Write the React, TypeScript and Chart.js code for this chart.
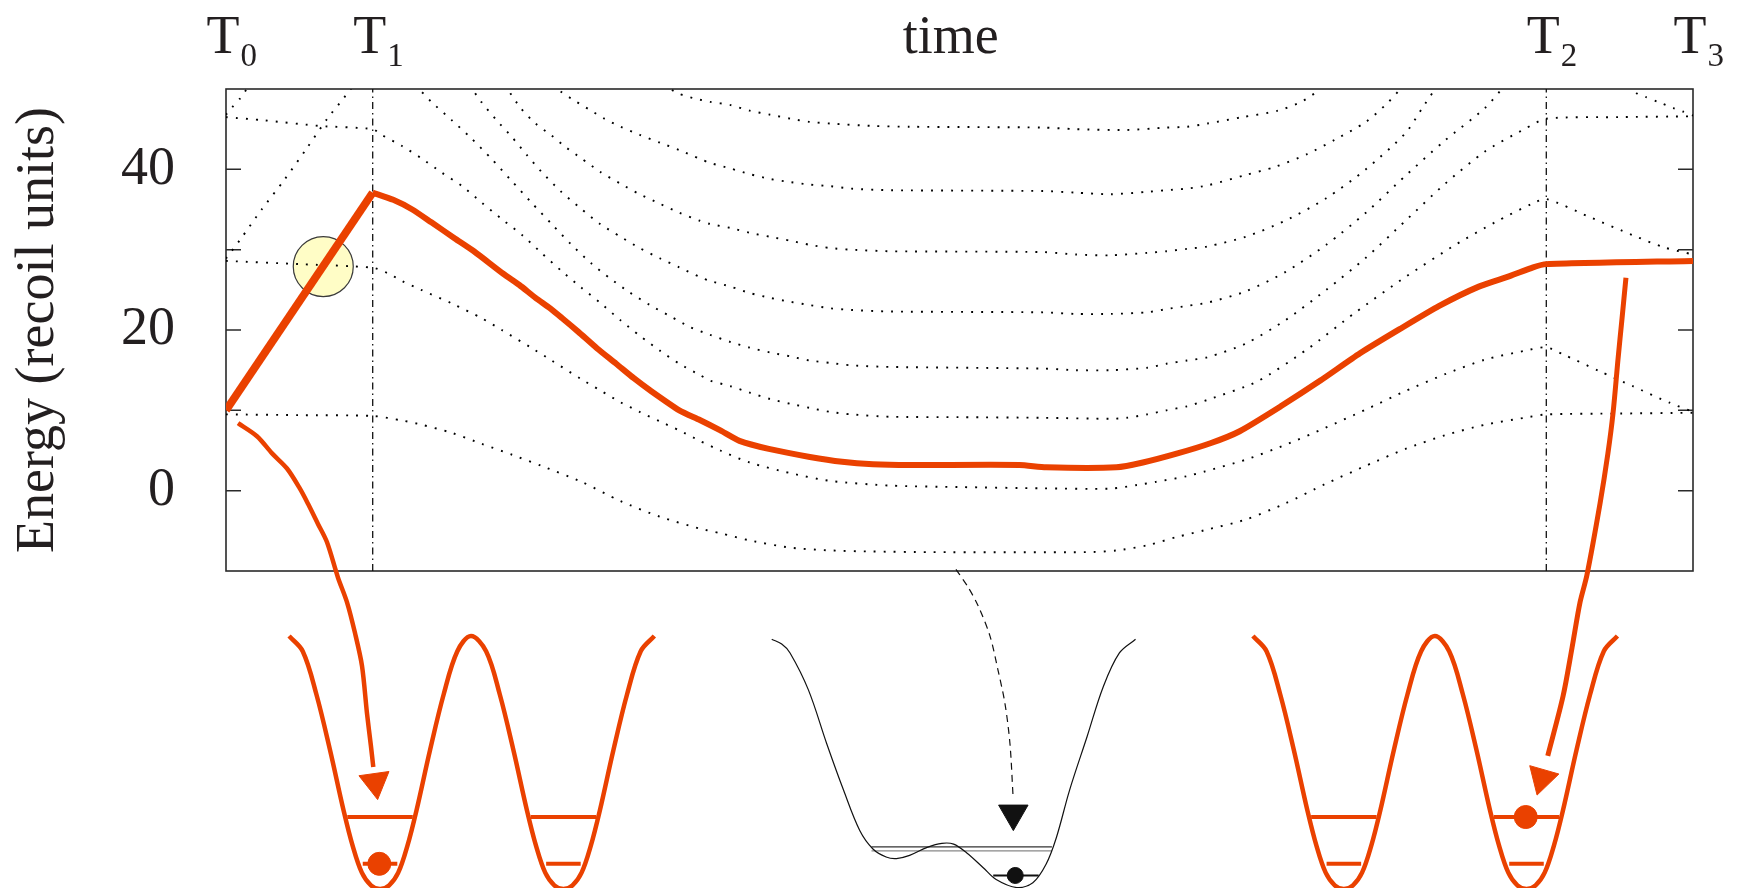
import React, { useEffect, useRef } from 'react';
import { Chart, registerables } from 'chart.js';

Chart.register(...registerables);

type P = [number, number];

// ---------- axes ----------
const energyMin = -10;
const energyMax = 50;
const energyStep = 10;
const energyTickLabels = [0, 20, 40];
const energyTickMarks = [0, 10, 20, 30, 40];
const timeMin = 0;
const timeMax = 100;
const timeMarks = [0, 10, 90, 100];
const timeMarkSubscripts = ['0', '1', '2', '3'];
const timeTitle = 'time';
const timeTitleAt = 49.4;
const energyTitle = 'Energy (recoil units)';
const markerTimes = [10, 90];

// ---------- energy bands (time, energy) ----------
const band1: P[] = [[0,9.5],[5,9.4],[10,9.3],[12,8.74],[13.3,8.23],[15.4,7.19],[17.4,5.85],[19.5,4.47],[21.5,3.09],[24.2,1.13],[26.9,-1.3],[29.6,-3.26],[32.3,-4.72],[33.7,-5.3],[35.7,-6.19],[38.5,-7.1],[41.2,-7.44],[44,-7.57],[48,-7.65],[58.7,-7.65],[60.7,-7.44],[62.8,-6.8],[64.8,-5.77],[66.7,-4.93],[69.5,-3.6],[72.2,-1.6],[74.9,0.8],[77.7,3.1],[80.4,5.2],[83.1,6.9],[85.8,8.2],[88.5,9.07],[90,9.49],[95,9.6],[100,9.7]];
const band2: P[] = [[0,28.6],[5,28.2],[10,27.75],[11,27.1],[12,26.1],[13.3,25.0],[15.4,23.3],[17.4,21.5],[18.8,20.0],[20.8,17.8],[22.2,16.2],[24.2,13.9],[25.5,12.5],[26.9,11.0],[28.2,9.8],[29.6,8.6],[30.9,7.5],[32.3,6.2],[33.7,5.0],[35.7,3.5],[38.5,2.17],[41.2,1.21],[45.3,0.63],[50,0.45],[55.7,0.29],[60.3,0.25],[62.1,0.71],[63.4,1.1],[65.5,1.8],[66.7,2.38],[69.5,3.85],[72.2,5.7],[74.9,7.8],[77.7,10.1],[80.4,12.4],[83.1,14.5],[85.8,16.3],[88.5,17.4],[90,17.85],[91.1,17.0],[93.6,14.9],[95.9,13.0],[98.4,10.95],[100,9.8]];
const band3: P[] = [[0,46.5],[2.6,46.1],[6.4,45.4],[10,45.0],[10.6,44.3],[12,42.9],[13.3,41.4],[14.7,39.6],[16.1,37.9],[17.4,35.9],[18.8,33.8],[20.2,31.8],[21.5,29.6],[22.9,27.3],[24.2,25.3],[25.5,23.4],[26.9,21.2],[28.2,19.3],[29.6,17.4],[30.9,15.8],[32.3,14.4],[33,13.7],[34.4,13.0],[35.7,12.2],[37.1,11.4],[38.5,10.8],[39.8,10.3],[41.2,9.8],[42.6,9.5],[45.3,9.2],[50,9.15],[55.7,9.07],[60.3,8.95],[61.4,9.07],[62.8,9.5],[64.1,10.0],[65.5,10.5],[66.9,11.3],[70.3,13.6],[73.7,17.6],[77.0,22.2],[80.4,26.6],[83.8,30.6],[86.5,33.4],[89,35.7],[90,36.3],[92.9,34.1],[95.9,31.8],[98,30.3],[100,29.4]];
const band4: P[] = [[12.9,50.5],[14.0,48.4],[15.4,46.1],[16.7,43.9],[18.1,41.3],[19.4,38.7],[20.8,35.9],[22.2,33.2],[23.5,30.7],[24.9,28.3],[26.2,26.4],[27.5,24.7],[28.9,23.1],[30.3,21.7],[31.6,20.4],[33.0,19.4],[34.4,18.5],[35.7,17.8],[37.1,17.2],[38.5,16.7],[39.8,16.2],[41.2,15.9],[42.6,15.6],[45.3,15.4],[55.7,15.2],[57.9,15.0],[60.3,15.0],[62.8,15.3],[64.1,15.8],[65.5,16.2],[66.9,16.6],[69.5,18.3],[72.2,21.2],[75,25.0],[77.7,29.0],[80.4,33.6],[83.1,38.2],[85.8,42.2],[88.5,45.0],[90,46.3],[95,46.5],[100,46.6]];
const band5: P[] = [[16.6,50.5],[17.4,48.4],[18.4,46.2],[19.5,44.0],[20.5,41.8],[21.5,39.7],[22.8,37.3],[24.2,35.1],[25.5,33.2],[26.9,31.6],[28.2,30.2],[29.6,28.9],[30.9,27.8],[32.3,26.6],[33.0,26.1],[34.4,25.4],[35.7,24.6],[37.1,24.0],[38.5,23.5],[39.8,23.1],[41.2,22.7],[42.6,22.5],[45.3,22.3],[55.7,22.2],[57.9,22.0],[60.3,22.0],[62.8,22.2],[64.1,22.6],[65.5,23.0],[66.9,23.4],[69.5,24.8],[72.2,27.2],[75,30.6],[77.7,34.6],[80.4,39.2],[83.1,43.6],[85.8,47.6],[87.2,50.5]];
const band6: P[] = [[19.0,50.5],[20.1,47.6],[21.1,45.7],[22.2,44.2],[23.2,42.7],[24.2,41.4],[25.5,39.7],[26.9,38.2],[28.2,36.9],[29.6,35.7],[30.9,34.6],[32.3,33.6],[33.0,33.2],[34.4,32.7],[35.7,32.1],[37.1,31.6],[38.5,31.1],[39.8,30.6],[41.2,30.2],[42.6,30.0],[45.3,29.8],[55.7,29.7],[57.9,29.4],[60.3,29.3],[62.8,29.6],[64.1,29.8],[65.5,30.1],[66.9,30.4],[69.5,31.6],[72.2,33.6],[75,36.4],[77.7,40.0],[80.4,44.5],[81.5,47.5],[82.6,50.5]];
const band7: P[] = [[22.3,50.5],[22.8,49.7],[23.8,48.5],[24.8,47.4],[25.8,46.3],[26.9,45.3],[28.2,44.3],[29.6,43.3],[30.9,42.4],[32.3,41.3],[33.0,40.8],[34.4,40.1],[35.7,39.4],[37.1,38.8],[38.5,38.4],[39.8,38.1],[41.2,37.9],[42.6,37.6],[45.3,37.4],[55.7,37.3],[57.9,37.1],[60.3,36.9],[62.8,37.2],[64.1,37.4],[65.5,37.6],[66.9,38.0],[69.5,39.3],[71.5,40.3],[73.7,41.9],[75.6,43.7],[77.7,45.9],[79.2,48.3],[80.3,50.5]];
const band8: P[] = [[29.8,50.5],[30.9,49.4],[32.0,48.8],[33.0,48.4],[34.4,48.0],[35.7,47.3],[37.1,46.8],[38.5,46.3],[39.8,45.9],[41.2,45.7],[44.1,45.4],[46.6,45.3],[55.7,45.2],[57.9,45.0],[61.4,44.9],[64.1,45.2],[65.5,45.3],[66.9,45.7],[69.3,46.5],[71.7,47.3],[73.3,48.4],[74.3,49.6],[74.8,50.5]];
const tiltUpLow: P[] = [[0,28.9],[0.95,31.2],[2.43,35.0],[3.98,38.7],[5.5,42.6],[6.9,46.3],[8.04,48.9],[8.7,50.5]];
const tiltUpHigh: P[] = [[0,46.8],[0.4,47.7],[0.95,48.8],[1.6,50.5]];
const tiltDownHigh: P[] = [[95.7,50.5],[96.2,49.4],[96.8,49.0],[97.6,48.4],[98.7,47.6],[99.3,47.2],[100,46.7]];

// ---------- the followed state (red) ----------
const redRamp: P[] = [[0,10],[10,37.1]];
const redPath: P[] = [[10,37.1],[11.4,36.2],[12.7,35.0],[14.0,33.4],[15.6,31.4],[16.9,29.8],[18.9,27.0],[20.0,25.6],[21.1,24.0],[22.1,22.7],[22.9,21.5],[24.0,19.8],[25.3,17.7],[26.6,15.8],[27.8,14.0],[28.9,12.5],[30.9,10.0],[32.3,8.8],[33.7,7.5],[35.0,6.2],[37.0,5.2],[39.8,4.2],[42,3.6],[44.1,3.3],[46.6,3.2],[54.1,3.2],[55.9,2.9],[60.7,2.9],[62.5,3.5],[64.8,4.6],[67.1,5.9],[69.1,7.4],[71.9,10.5],[74.6,13.7],[77.3,17.1],[80.0,20.1],[82.7,23.0],[85.4,25.4],[87.5,26.7],[89.1,27.8],[90,28.2],[100,28.6]];
const crossingMark: P[] = [[6.63,27.9]];

// ---------- arrows to the potential sketches ----------
const arrowLeft: P[] = [[0.82,8.4],[2.11,6.77],[3.14,4.64],[4.16,2.76],[5.04,0.25],[5.59,-1.63],[6.27,-4.14],[6.88,-6.4],[7.63,-10.8],[8.25,-13.9],[8.79,-17.7],[9.27,-21.8],[9.61,-27.7],[9.88,-31.8],[10.04,-34.4]];
const arrowRight: P[] = [[95.43,26.5],[95.16,21.4],[94.89,16.4],[94.55,9.66],[94.2,4.64],[93.66,-1.63],[92.77,-10.5],[92.3,-13.9],[91.75,-19.6],[91.14,-25.6],[90.1,-33.0]];
const arrowMiddle: P[] = [[49.76,-9.8],[50.58,-12.0],[51.26,-14.3],[52.08,-18.1],[52.62,-22.3],[53.1,-26.5],[53.44,-31.5],[53.65,-38.0]];
const arrowHeadsRed: P[] = [[10.17,-36.3],[89.7,-35.8]];
const arrowHeadsRedAngle = [172, 196];
const arrowHeadMiddle: P[] = [[53.67,-40.2]];

// ---------- lattice potential sketches ----------
const wellU = [-1,-0.85,-0.7,-0.55,-0.4,-0.3,-0.2,-0.1,0,0.1,0.2,0.3,0.4,0.55,0.7,0.85,1];
const wellV = [1,0.94,0.77,0.55,0.31,0.17,0.065,0.015,0,0.015,0.065,0.17,0.31,0.55,0.77,0.94,1];
const leftPairSites = [10.5, 23.0];
const rightPairSites = [76.2, 88.65];
const levelV = [0.285, 0.1];
const levelHalfU = [0.36, 0.19];
const redParticles: P[] = [[10.45, 0.1], [88.6, 0.285]];
const doubleWellT = [37.2,37.88,38.45,39.7,40.95,42.1,43.2,44.1,45.0,45.7,46.6,47.8,48.8,49.6,50.5,51.6,52.5,53.9,55.0,55.9,56.6,57.5,58.7,59.8,60.9,62.0];
const doubleWellE = [-18.5,-19.1,-20.2,-24.8,-31.5,-37.3,-42.3,-44.6,-45.6,-45.8,-45.4,-44.4,-43.9,-44.0,-45.1,-46.9,-48.4,-49.4,-48.8,-46.5,-43.2,-37.3,-30.6,-24.4,-20.2,-18.5];
const doubleWellUpperLevels = [-44.35, -44.85];
const doubleWellUpperSpan = [44.0, 56.3];
const doubleWellGround = -47.9;
const doubleWellGroundSpan = [52.3, 55.4];
const blackParticle: P[] = [[53.8, -47.9]];

// placement of the sketch panel (layout, not data)
const WELL_HALF = 6.2;
const WELL_TOP = -18.1;
const WELL_BOTTOM = -49.6;

const RED = '#EA4100';
const INK = '#231f20';
const SERIF = '"Liberation Serif", "Times New Roman", serif';
const WHOLE_CANVAS = { left: -10000, top: -10000, right: 10000, bottom: 10000 };
const LABEL_BASELINE = 53;
const SUB_BASELINE = 66;

const toXY = (pts: P[]) => pts.map(([x, y]) => ({ x, y }));
const wellY = (v: number) => WELL_BOTTOM + v * (WELL_TOP - WELL_BOTTOM);

function pairCurve(sites: number[]) {
  const pts: { x: number; y: number }[] = [];
  sites.forEach((s, k) => {
    wellU.forEach((u, i) => {
      if (k > 0 && i === 0) return;
      pts.push({ x: s + u * WELL_HALF, y: wellY(wellV[i]) });
    });
  });
  return pts;
}

function pairLevels(sites: number[]) {
  const out: any[] = [];
  sites.forEach((s) => {
    levelV.forEach((v, j) => {
      out.push({
        data: [
          { x: s - levelHalfU[j] * WELL_HALF, y: wellY(v) },
          { x: s + levelHalfU[j] * WELL_HALF, y: wellY(v) },
        ],
        borderColor: RED,
        borderWidth: 4,
        pointRadius: 0,
        clip: false,
        order: 5,
      });
    });
  });
  return out;
}

const dotted = (pts: P[]) => ({
  data: toXY(pts),
  borderColor: '#000',
  borderWidth: 1.9,
  borderDash: [1.9, 8.1],
  borderCapStyle: 'butt',
  pointRadius: 0,
  tension: 0.25,
  order: 8,
});

const decorPlugin = {
  id: 'decor',
  beforeDatasetsDraw(chart: any) {
    const { ctx, chartArea: a, scales } = chart;
    const y = scales.y;
    ctx.save();
    ctx.strokeStyle = '#2a2a2a';
    ctx.lineWidth = 1.6;
    ctx.strokeRect(a.left, a.top, a.right - a.left, a.bottom - a.top);
    ctx.lineWidth = 1.5;
    energyTickMarks.forEach((v) => {
      const py = y.getPixelForValue(v);
      ctx.beginPath();
      ctx.moveTo(a.left, py);
      ctx.lineTo(a.left + 15, py);
      ctx.moveTo(a.right, py);
      ctx.lineTo(a.right - 15, py);
      ctx.stroke();
    });
    ctx.restore();
  },
  afterDatasetsDraw(chart: any) {
    // point markers that sit in the sketch panel, outside the plot frame
    const ctx = chart.ctx;
    chart.data.datasets.forEach((ds: any, i: number) => {
      if (!ds.outsidePoints) return;
      const meta = chart.getDatasetMeta(i);
      meta.data.forEach((el: any) => el.draw(ctx, WHOLE_CANVAS));
    });
  },
  afterDraw(chart: any) {
    const { ctx, scales } = chart;
    const x = scales.x;
    ctx.save();
    ctx.fillStyle = INK;
    ctx.textBaseline = 'alphabetic';
    timeMarks.forEach((t, i) => {
      const px = x.getPixelForValue(t) - 3;
      ctx.font = `54px ${SERIF}`;
      const w = ctx.measureText('T').width;
      ctx.textAlign = 'center';
      ctx.fillText('T', px, LABEL_BASELINE);
      ctx.font = `33px ${SERIF}`;
      ctx.textAlign = 'left';
      ctx.fillText(timeMarkSubscripts[i], px + w / 2 + 1, SUB_BASELINE);
    });
    ctx.font = `54px ${SERIF}`;
    ctx.textAlign = 'center';
    ctx.fillText(timeTitle, x.getPixelForValue(timeTitleAt), LABEL_BASELINE);
    ctx.restore();
  },
};

export default function App() {
  const ref = useRef<HTMLCanvasElement | null>(null);

  useEffect(() => {
    if (!ref.current) return;

    const datasets: any[] = [
      {
        data: toXY(crossingMark),
        showLine: false,
        pointRadius: 30,
        pointBackgroundColor: '#FFFDC6',
        pointBorderColor: '#3a3a3a',
        pointBorderWidth: 1.2,
        order: 10,
      },
      ...markerTimes.map((t) => ({
        data: [{ x: t, y: energyMin }, { x: t, y: energyMax }],
        borderColor: '#111',
        borderWidth: 1.3,
        borderDash: [7, 4, 1.5, 4],
        pointRadius: 0,
        order: 9,
      })),
      ...[band1, band2, band3, band4, band5, band6, band7, band8, tiltUpLow, tiltUpHigh, tiltDownHigh].map(dotted),
      {
        data: pairCurve(leftPairSites),
        borderColor: RED,
        borderWidth: 4.5,
        pointRadius: 0,
        tension: 0.35,
        clip: false,
        order: 5,
      },
      {
        data: pairCurve(rightPairSites),
        borderColor: RED,
        borderWidth: 4.5,
        pointRadius: 0,
        tension: 0.35,
        clip: false,
        order: 5,
      },
      ...pairLevels(leftPairSites),
      ...pairLevels(rightPairSites),
      {
        data: doubleWellT.map((t, i) => ({ x: t, y: doubleWellE[i] })),
        borderColor: '#111',
        borderWidth: 1.2,
        pointRadius: 0,
        tension: 0.35,
        clip: false,
        order: 5,
      },
      ...doubleWellUpperLevels.map((e, i) => ({
        data: [{ x: doubleWellUpperSpan[0], y: e }, { x: doubleWellUpperSpan[1], y: e }],
        borderColor: i === 0 ? '#333' : '#888',
        borderWidth: 1.3,
        pointRadius: 0,
        clip: false,
        order: 5,
      })),
      {
        data: [{ x: doubleWellGroundSpan[0], y: doubleWellGround }, { x: doubleWellGroundSpan[1], y: doubleWellGround }],
        borderColor: '#111',
        borderWidth: 2,
        pointRadius: 0,
        clip: false,
        order: 5,
      },
      {
        data: toXY(redRamp),
        borderColor: RED,
        borderWidth: 8,
        pointRadius: 0,
        order: 3,
      },
      {
        data: toXY(redPath),
        borderColor: RED,
        borderWidth: 6,
        pointRadius: 0,
        tension: 0.2,
        order: 3,
      },
      {
        data: toXY(arrowLeft),
        borderColor: RED,
        borderWidth: 4.5,
        pointRadius: 0,
        tension: 0.3,
        clip: false,
        order: 2,
      },
      {
        data: toXY(arrowRight),
        borderColor: RED,
        borderWidth: 5,
        pointRadius: 0,
        tension: 0.3,
        clip: false,
        order: 2,
      },
      {
        data: toXY(arrowMiddle),
        borderColor: '#111',
        borderWidth: 1.2,
        borderDash: [7, 5],
        pointRadius: 0,
        tension: 0.3,
        clip: false,
        order: 2,
      },
      ...arrowHeadsRed.map((p, i) => ({
        data: toXY([p]),
        showLine: false,
        outsidePoints: true,
        pointStyle: 'triangle',
        pointRotation: arrowHeadsRedAngle[i],
        pointRadius: 17.5,
        pointBackgroundColor: RED,
        pointBorderColor: RED,
        pointBorderWidth: 1,
        clip: false,
        order: 1,
      })),
      {
        data: toXY(arrowHeadMiddle),
        showLine: false,
        outsidePoints: true,
        pointStyle: 'triangle',
        pointRotation: 180,
        pointRadius: 17,
        pointBackgroundColor: '#111',
        pointBorderColor: '#111',
        pointBorderWidth: 1,
        clip: false,
        order: 1,
      },
      {
        data: redParticles.map(([t, v]) => ({ x: t, y: wellY(v) })),
        showLine: false,
        outsidePoints: true,
        pointRadius: 11.5,
        pointBackgroundColor: RED,
        pointBorderColor: RED,
        pointBorderWidth: 1,
        clip: false,
        order: 0,
      },
      {
        data: toXY(blackParticle),
        showLine: false,
        outsidePoints: true,
        pointRadius: 8,
        pointBackgroundColor: '#111',
        pointBorderColor: '#111',
        pointBorderWidth: 1,
        clip: false,
        order: 0,
      },
    ];

    const chart = new Chart(ref.current, {
      type: 'line',
      data: { datasets },
      plugins: [decorPlugin],
      options: {
        responsive: false,
        maintainAspectRatio: false,
        devicePixelRatio: 1,
        animation: false,
        events: [],
        layout: { padding: { top: 89, right: 51, bottom: 317, left: 0 } },
        elements: {
          line: { capBezierPoints: false, fill: false },
          point: { radius: 0, hitRadius: 0 },
        },
        plugins: {
          legend: { display: false },
          tooltip: { enabled: false },
        },
        scales: {
          x: {
            type: 'linear',
            min: timeMin,
            max: timeMax,
            display: false,
          },
          y: {
            type: 'linear',
            min: energyMin,
            max: energyMax,
            afterFit: (s: any) => {
              s.width = 226;
            },
            grid: { display: false, drawTicks: false },
            border: { display: false },
            ticks: {
              stepSize: energyStep,
              autoSkip: false,
              padding: 51,
              color: INK,
              font: { family: SERIF, size: 54 },
              callback: (v: any) => (energyTickLabels.includes(Number(v)) ? String(v) : ''),
            },
            title: {
              display: true,
              text: energyTitle,
              color: INK,
              font: { family: SERIF, size: 54 },
              padding: { top: 6, bottom: 0 },
            },
          },
        },
      } as any,
    });

    return () => chart.destroy();
  }, []);

  return (
    <div style={{ position: 'fixed', left: 0, top: 0, width: 1744, height: 888, background: '#fff' }}>
      <canvas ref={ref} width={1744} height={888} style={{ width: 1744, height: 888, display: 'block' }} />
    </div>
  );
}
